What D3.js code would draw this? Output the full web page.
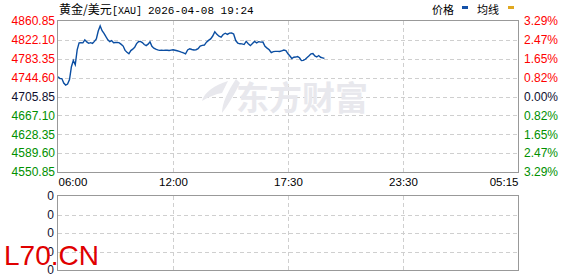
<!DOCTYPE html>
<html>
<head>
<meta charset="utf-8">
<script src="https://cdn.jsdelivr.net/npm/d3@7"></script>
<style>
  body { margin: 0; background: #fff; }
  svg { display: block; }
</style>
</head>
<body>
<div class="canvas"></div>
<script>
// price every 6 minutes starting 06:00, up to 19:24
const minuteStep = 6;
const prices = [
  4746.6, 4742.6, 4742.6, 4733.4, 4729.3, 4731.4, 4740.5, 4767.0, 4779.9, 4771.1,
  4801.7, 4816.0, 4816.4, 4816.0, 4822.1, 4818.0, 4815.0, 4816.4, 4815.0, 4819.0,
  4824.1, 4840.4, 4850.6, 4840.9, 4835.6, 4828.6, 4822.1, 4818.4, 4820.7, 4816.4,
  4816.8, 4817.0, 4816.0, 4812.9, 4809.4, 4800.5, 4796.8, 4793.5, 4800.1, 4803.0,
  4806.8, 4814.4, 4818.4, 4819.0, 4816.6, 4812.5, 4810.3, 4813.3, 4818.0, 4808.9,
  4805.0, 4803.1, 4801.5, 4800.5, 4801.1, 4800.5, 4800.7, 4800.9, 4800.3, 4801.1,
  4801.7, 4800.7, 4799.7, 4798.5, 4796.8, 4795.4, 4793.5, 4801.5, 4803.9, 4802.3,
  4801.3, 4801.9, 4804.2, 4809.4, 4810.7, 4811.5, 4817.4, 4821.1, 4824.1, 4830.0,
  4838.8, 4833.5, 4829.6, 4827.8, 4833.1, 4835.8, 4833.3, 4836.0, 4836.2, 4834.3,
  4820.7, 4815.4, 4814.0, 4813.8, 4812.5, 4819.0, 4814.0, 4810.3, 4814.6, 4818.8,
  4816.0, 4818.4, 4817.4, 4817.6, 4808.9, 4805.2, 4801.7, 4795.8, 4798.0, 4798.4,
  4798.4, 4798.2, 4799.7, 4801.3, 4800.1, 4793.5, 4789.0, 4783.8, 4786.4, 4786.8,
  4787.8, 4785.4, 4779.5, 4779.9, 4782.3, 4786.0, 4789.3, 4793.5, 4794.0, 4789.0,
  4787.0, 4789.9, 4786.4, 4785.2, 4784.0
];

const basePrice = 4705.85;
const priceTicks = [4860.85, 4822.10, 4783.35, 4744.60, 4705.85, 4667.10, 4628.35, 4589.60, 4550.85];
const pctLabels = ['3.29%', '2.47%', '1.65%', '0.82%', '0.00%', '0.82%', '1.65%', '2.47%', '3.29%'];
const timeTicks = [0, 360, 690, 1050, 1395];
const timeLabels = ['06:00', '12:00', '17:30', '23:30', '05:15'];
const volTicks = [0, 1, 2, 3, 4];
const volLabels = ['0', '0', '0', '0', '0'];

const width = 578, height = 276;
const margin = { top: 21, left: 58 };
const graphWidth = 460;
const graphHeight = 151;
const volTop = 196, volHeight = 74;

const red = '#ff0000', green = '#009000', dark = '#101030';
const colorFor = d => d > basePrice ? red : (d < basePrice ? green : dark);

const svg = d3.select('.canvas')
  .append('svg')
  .attr('width', width)
  .attr('height', height)
  .style('font-family', '"Liberation Sans", Arial, sans-serif');

const x = d3.scaleLinear()
  .domain(timeTicks)
  .range([0, 115, 230, 345, 460]);

const y = d3.scaleLinear()
  .domain([priceTicks[priceTicks.length - 1], priceTicks[0]])
  .range([graphHeight, 0]);

const yVol = d3.scaleLinear()
  .domain([0, 4])
  .range([volHeight, 0]);

// title + legend
const title = svg.append('text')
  .attr('y', 14)
  .attr('font-size', 12)
  .attr('fill', '#000');
title.append('tspan').attr('x', 59).attr('font-family', '"Noto Sans CJK SC"').text('黄金/美元');
title.append('tspan').attr('x', 112).attr('font-family', '"Liberation Mono", monospace').attr('font-size', 10).text('[XAU]');
title.append('tspan').attr('x', 148).attr('font-family', '"Liberation Mono", monospace').attr('font-size', 11).text('2026-04-08 19:24');

svg.append('text').attr('x', 432).attr('y', 14).attr('font-size', 11)
  .attr('font-family', '"Noto Sans CJK SC"').text('价格');
svg.append('rect').attr('x', 462).attr('y', 6).attr('width', 6).attr('height', 3).attr('fill', '#1552a8');
svg.append('text').attr('x', 477).attr('y', 14).attr('font-size', 11)
  .attr('font-family', '"Noto Sans CJK SC"').text('均线');
svg.append('rect').attr('x', 508).attr('y', 6).attr('width', 6).attr('height', 3).attr('fill', '#e0a820');

// main price panel
const graph = svg.append('g')
  .attr('transform', `translate(${margin.left},${margin.top})`);

// horizontal grid
graph.append('g')
  .selectAll('line')
  .data(priceTicks.slice(1, -1))
  .enter().append('line')
  .attr('x1', 0).attr('x2', graphWidth)
  .attr('y1', d => Math.round(y(d)) + 0.5).attr('y2', d => Math.round(y(d)) + 0.5)
  .attr('stroke', '#cfcfcf')
  .attr('stroke-dasharray', '4,3');

// vertical grid
graph.append('g')
  .selectAll('line')
  .data(timeTicks.slice(1, -1))
  .enter().append('line')
  .attr('x1', d => Math.round(x(d)) + 0.5).attr('x2', d => Math.round(x(d)) + 0.5)
  .attr('y1', 0).attr('y2', graphHeight)
  .attr('stroke', '#cfcfcf')
  .attr('stroke-dasharray', '4,3');

// watermark
const wm = graph.append('g').attr('fill', '#e8e8ed');
wm.append('path')
  .attr('d', 'M170,60 C156,64 146,72 144,80 C150,76 158,73 164,72 Z M178,58 C170,70 164,82 164,92 C170,84 176,74 182,62 Z');
wm.append('text')
  .attr('x', 178).attr('y', 89)
  .attr('font-size', 33)
  .attr('font-weight', 'bold')
  .attr('font-family', '"Noto Sans CJK SC"')
  .text('东方财富');

// price line
const line = d3.line()
  .x((d, i) => x(i * minuteStep))
  .y(d => y(d));

graph.append('path')
  .datum(prices)
  .attr('d', line)
  .attr('fill', 'none')
  .attr('stroke', '#0b4ea2')
  .attr('stroke-width', 1.4);

// frame
graph.append('rect')
  .attr('x', -0.5).attr('y', -0.5)
  .attr('width', graphWidth + 1).attr('height', graphHeight + 1)
  .attr('fill', 'none')
  .attr('stroke', '#999');

// left axis (price)
const yAxisGroup = graph.append('g');
yAxisGroup.call(d3.axisLeft(y).tickValues(priceTicks).tickSize(0).tickPadding(3).tickFormat(d => d.toFixed(2)));
yAxisGroup.select('.domain').remove();
yAxisGroup.selectAll('text')
  .attr('font-size', 12)
  .attr('font-family', '"Liberation Sans", Arial, sans-serif')
  .attr('fill', d => colorFor(d));

// right axis (percent)
const pctAxisGroup = graph.append('g').attr('transform', `translate(${graphWidth},0)`);
pctAxisGroup.call(d3.axisRight(y).tickValues(priceTicks).tickSize(0).tickPadding(6).tickFormat((d, i) => pctLabels[i]));
pctAxisGroup.select('.domain').remove();
pctAxisGroup.selectAll('text')
  .attr('font-size', 12)
  .attr('font-family', '"Liberation Sans", Arial, sans-serif')
  .attr('fill', d => colorFor(d));

// time axis
const xAxisGroup = graph.append('g').attr('transform', `translate(0,${graphHeight})`);
xAxisGroup.call(d3.axisBottom(x).tickValues(timeTicks).tickSize(0).tickPadding(6).tickFormat((d, i) => timeLabels[i]));
xAxisGroup.select('.domain').remove();
xAxisGroup.selectAll('text')
  .attr('font-size', 11.5)
  .attr('font-family', '"Liberation Sans", Arial, sans-serif')
  .attr('fill', '#000')
  .attr('text-anchor', (d, i) => i === 0 ? 'start' : (i === timeTicks.length - 1 ? 'end' : 'middle'));

// volume panel (empty)
const vol = svg.append('g')
  .attr('transform', `translate(${margin.left},${volTop})`);

vol.append('g')
  .selectAll('line')
  .data(volTicks.slice(1, -1))
  .enter().append('line')
  .attr('x1', 0).attr('x2', graphWidth)
  .attr('y1', d => Math.round(yVol(d)) + 0.5).attr('y2', d => Math.round(yVol(d)) + 0.5)
  .attr('stroke', '#cfcfcf')
  .attr('stroke-dasharray', '4,3');

vol.append('g')
  .selectAll('line')
  .data(timeTicks.slice(1, -1))
  .enter().append('line')
  .attr('x1', d => Math.round(x(d)) + 0.5).attr('x2', d => Math.round(x(d)) + 0.5)
  .attr('y1', 0).attr('y2', volHeight)
  .attr('stroke', '#cfcfcf')
  .attr('stroke-dasharray', '4,3');

vol.append('rect')
  .attr('x', -0.5).attr('y', -0.5)
  .attr('width', graphWidth + 1).attr('height', volHeight + 1)
  .attr('fill', 'none')
  .attr('stroke', '#999');

const volAxisGroup = vol.append('g');
volAxisGroup.call(d3.axisLeft(yVol).tickValues(volTicks).tickSize(0).tickPadding(4).tickFormat((d, i) => volLabels[i]));
volAxisGroup.select('.domain').remove();
volAxisGroup.selectAll('text')
  .attr('font-size', 12)
  .attr('font-family', '"Liberation Sans", Arial, sans-serif')
  .attr('fill', dark);

// site mark
svg.append('text')
  .attr('x', 4).attr('y', 265)
  .attr('font-size', 28)
  .attr('font-family', '"Liberation Sans", Arial, sans-serif')
  .attr('fill', '#e00000')
  .text('L70.CN');
</script>
</body>
</html>
